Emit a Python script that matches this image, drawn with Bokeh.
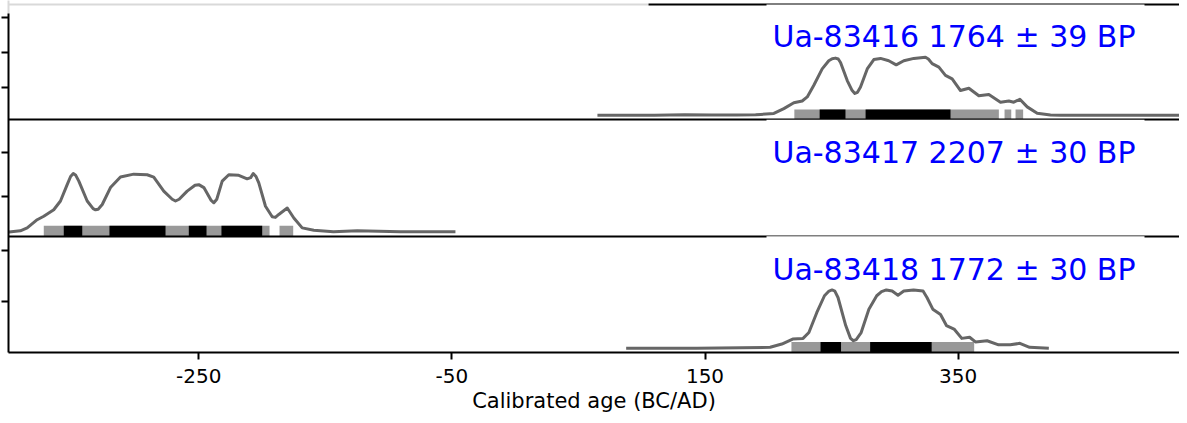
import numpy as np
from bokeh.plotting import figure
from bokeh.models import Range1d, FixedTicker, CustomJSTickFormatter
from bokeh.core.properties import value
from bokeh.embed import file_html
from bokeh.resources import INLINE

# ---------------- data ----------------
lab_codes = ["Ua-83416", "Ua-83417", "Ua-83418"]
bp_ages = [1764, 2207, 1772]
bp_errors = [39, 30, 30]

# calibrated probability (relative, max = 1)
years_1 = [65, 90, 110, 134, 155, 175, 190, 194, 204.4, 212.3, 220.2, 226.8, 230.8, 236, 242.6,
           247.8, 250.5, 253.1, 255.3, 257.1, 262.4, 266, 268.4, 270.5, 272.9, 278.2, 283.4, 288.7,
           295.2, 301.1, 307.1, 315, 324.2, 326.5, 329.5, 334.8, 340, 345.3, 351.9, 358.5, 366.4,
           374.3, 383.5, 390.1, 394, 398.8, 404.6, 412.5, 423, 431, 460, 545]
prob_1 = [0.005, 0.006, 0.008, 0.015, 0.01, 0.012, 0.015, 0.02, 0.037, 0.12, 0.22, 0.25, 0.32, 0.52,
          0.80, 0.94, 0.975, 0.985, 0.97, 0.91, 0.60, 0.44, 0.38, 0.40, 0.49, 0.80, 0.96, 0.98,
          0.94, 0.87, 0.94, 0.98, 1.0, 0.97, 0.89, 0.83, 0.69, 0.63, 0.43, 0.47, 0.34,
          0.36, 0.23, 0.25, 0.23, 0.28, 0.15, 0.04, 0.01, 0.008, 0.008, 0.008]

years_2 = [-410, -400, -391, -385.6, -377.7, -372.5, -364.6, -359.3, -354, -351.3, -349.2, -347.2,
           -344.8, -338.2, -333.5, -331.6, -329.5, -326.3, -319.8, -311.9, -301.4, -290.8, -285.6,
           -277.7, -271, -268.4, -265.5, -259.2, -253, -250, -246, -240.2, -238.1, -235.8, -231.5,
           -226.3, -218.4, -211.8, -209, -207, -204.8, -202.6, -197.3, -192, -189.5, -186.8, -180.1,
           -174.9, -168.3, -159.1, -143.6, -124.8, -90.6, -47.2]
prob_2 = [0.0, 0.0, 0.02, 0.07, 0.21, 0.27, 0.38, 0.53, 0.81, 0.95, 1.0, 0.97,
          0.87, 0.53, 0.40, 0.38, 0.39, 0.47, 0.76, 0.94, 0.99, 0.98, 0.94,
          0.70, 0.56, 0.53, 0.56, 0.70, 0.80, 0.81, 0.76, 0.54, 0.50, 0.56, 0.87,
          0.98, 0.97, 0.91, 0.93, 1.0, 0.95, 0.84, 0.44, 0.26, 0.25, 0.30, 0.41,
          0.24, 0.07, 0.03, 0.005, 0.02, 0.005, 0.005]

years_3 = [87.7, 143.4, 201.5, 210.7, 219.3, 227.5, 232.1, 238.3, 244.4, 248, 250.4, 252.6, 255.1,
           261.2, 265, 267.3, 269.5, 273.4, 279.5, 285.7, 289.5, 293.3, 297.9, 302.5, 307.1, 314.8,
           322.3, 325.4, 330, 336.1, 340.8, 346.8, 352.9, 359.1, 363.7, 372.9, 382, 391.2, 398.8,
           406.5, 421.7]
prob_3 = [0.0, 0.0, 0.017, 0.073, 0.158, 0.17, 0.27, 0.61, 0.90, 0.98, 1.0, 0.98, 0.87,
          0.39, 0.17, 0.13, 0.15, 0.27, 0.67, 0.90, 0.97, 1.0, 0.98, 0.91, 0.98, 1.0,
          0.98, 0.87, 0.67, 0.58, 0.39, 0.33, 0.17, 0.19, 0.11, 0.13, 0.06, 0.06, 0.085,
          0.017, 0.0]

# highest-density ranges (68.2 % black, 95.4 % grey)
hpd68 = [
    [(240.6, 261.0), (276.9, 344.0)],
    [(-356.7, -342.1), (-320.6, -276.3), (-257.9, -243.9), (-232.1, -199.9)],
    [(241.3, 257.5), (280.5, 329.1)],
]
hpd95 = [
    [(220.6, 382.2), (386.7, 392.0), (395.4, 401.4)],
    [(-372.5, -194.1), (-186.2, -175.4)],
    [(218.3, 362.7)],
]

x_ticks = [-250, -50, 150, 350]
x_tick_labels = ["-250", "-50", "150", "350"]
x_title = "Calibrated age (BC/AD)"
# unlabeled density ticks of each panel, as a fraction of the panel height
y_ticks_panel = [[0.282, 0.581, 0.880], [0.342, 0.718], [0.436, 0.880]]

years = [years_1, years_2, years_3]
probs = [prob_1, prob_2, prob_3]

# ---------------- layout ----------------
W, H = 1179, 415
BORDER_L = 8
FRAME_H = 354
BORDER_B = H - FRAME_H
PANEL_PX = 117.0
PX_PER_YEAR = 1.2655
ANCHOR_YEAR, ANCHOR_PX = -250, 198.3   # canvas px of the -250 tick
x0 = ANCHOR_YEAR - (ANCHOR_PX - BORDER_L) / PX_PER_YEAR
x1 = x0 + (W - BORDER_L) / PX_PER_YEAR
y_top = FRAME_H / PANEL_PX
y_line_top = (FRAME_H - 4) / PANEL_PX

CURVE_OFF, CURVE_SCALE = 0.036, 0.502
BAR_H = 10.5 / PANEL_PX

p = figure(width=W, height=H, x_range=Range1d(x0, x1), y_range=Range1d(0, y_top),
           min_border_left=BORDER_L, min_border_right=0, min_border_top=0,
           min_border_bottom=BORDER_B, output_backend="svg", toolbar_location=None)
p.outline_line_color = None
p.xgrid.visible = False
p.ygrid.visible = False
p.background_fill_color = "white"
p.border_fill_color = "white"

for k in range(3):
    base = 2 - k
    # 95 % ranges (grey) then 68 % ranges (black)
    p.quad(left=[a for a, b in hpd95[k]], right=[b for a, b in hpd95[k]],
           bottom=base, top=base + BAR_H, fill_color="#999999", line_color=None)
    p.quad(left=[a for a, b in hpd68[k]], right=[b for a, b in hpd68[k]],
           bottom=base, top=base + BAR_H, fill_color="black", line_color=None)
    ys = base + CURVE_OFF + np.array(probs[k]) * CURVE_SCALE
    p.line(years[k], ys, line_color="#666666", line_width=3, line_join="round")

# panel separators
p.hspan(y=[1.0, 2.0, y_line_top], line_color="black", line_width=2)

# white label boxes (cover lower half of the separator above each label)
box_left, box_right = 198.6, 497.3
p.quad(left=box_left, right=box_right,
       bottom=[2.62, 1.62, 0.62], top=[y_line_top, 2.0, 1.0],
       fill_color="white", line_color=None)

# cut-off title region at the top-left
p.quad(left=x0 - 20, right=105.4, bottom=(FRAME_H - 13) / PANEL_PX, top=y_top + 0.2,
       fill_color="white", fill_alpha=0.85, line_color=None, level="overlay")

labels = [f"{c} {a} \u00b1 {e} BP" for c, a, e in zip(lab_codes, bp_ages, bp_errors)]
p.text(x=[203.3] * 3, y=[2 - k + 0.716 for k in range(3)], text=labels,
       text_font=value("DejaVu Sans"), text_font_size=value("30px"),
       text_color="#0000ff", text_baseline="alphabetic", text_align="left")

# axes
p.xaxis.ticker = FixedTicker(ticks=x_ticks)
p.xaxis.major_label_overrides = {t: s for t, s in zip(x_ticks, x_tick_labels)}
p.xaxis.major_label_text_font = "DejaVu Sans"
p.xaxis.major_label_text_font_size = "20px"
p.xaxis.major_label_text_color = "black"
p.xaxis.major_label_standoff = 9
p.xaxis.axis_label = x_title
p.xaxis.axis_label_text_font = "DejaVu Sans"
p.xaxis.axis_label_text_font_style = "normal"
p.xaxis.axis_label_text_font_size = "21px"
p.xaxis.axis_label_text_color = "black"
p.xaxis.axis_label_standoff = 3

y_ticks = [2 - k + t for k in range(3) for t in y_ticks_panel[k]]
p.yaxis.ticker = FixedTicker(ticks=y_ticks)
p.yaxis.formatter = CustomJSTickFormatter(code="return ''")
p.yaxis.major_label_standoff = 0

for ax in (p.xaxis[0], p.yaxis[0]):
    ax.axis_line_width = 2
    ax.axis_line_color = "black"
    ax.major_tick_line_width = 2
    ax.major_tick_line_color = "black"
    ax.major_tick_out = 7
    ax.major_tick_in = 0
    ax.minor_tick_line_color = None

open("out.html", "w").write(file_html(p, INLINE))
